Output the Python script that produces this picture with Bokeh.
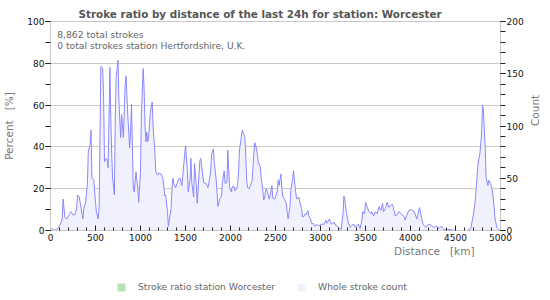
import math
from bokeh.plotting import figure
from bokeh.layouts import column
from bokeh.models import Range1d, LinearAxis, SingleIntervalTicker, Legend, LegendItem, Label, Title
from bokeh.embed import file_html
from bokeh.resources import INLINE

title_text = "Stroke ratio by distance of the last 24h for station: Worcester"
info_lines = ["8,862 total strokes", "0 total strokes station Hertfordshire, U.K."]
series_names = ["Stroke ratio station Worcester", "Whole stroke count"]
x_label = "Distance\u00a0\u00a0 [km]"
y_label = "Percent\u00a0\u00a0 [%]"
y2_label = "Count"

distance_km = [
    0, 20, 40, 60, 80, 110, 130, 140, 160, 180, 200, 230, 250, 270, 290, 300, 320, 340, 360, 370,
    390, 410, 420, 440, 450, 460, 480, 500, 510, 530, 540, 550, 560, 580, 590, 600, 620, 630, 640, 660,
    670, 680, 690, 710, 720, 730, 750, 760, 780, 790, 810, 830, 840, 860, 880, 890, 900, 920, 930, 950,
    970, 980, 1000, 1010, 1030, 1040, 1050, 1060, 1070, 1080, 1090, 1110, 1130, 1140, 1160, 1170, 1190, 1200, 1230, 1250,
    1270, 1280, 1300, 1310, 1320, 1340, 1350, 1360, 1370, 1390, 1410, 1430, 1440, 1460, 1470, 1490, 1500, 1520, 1530, 1550,
    1560, 1570, 1590, 1600, 1620, 1630, 1640, 1660, 1670, 1690, 1700, 1730, 1750, 1760, 1780, 1790, 1810, 1820, 1840, 1850,
    1860, 1880, 1900, 1910, 1930, 1940, 1960, 1970, 1980, 1990, 2010, 2020, 2040, 2050, 2070, 2080, 2090, 2100, 2120, 2130,
    2140, 2160, 2170, 2180, 2190, 2210, 2220, 2240, 2250, 2260, 2270, 2290, 2300, 2310, 2320, 2330, 2340, 2360, 2370, 2380,
    2390, 2400, 2420, 2430, 2440, 2460, 2470, 2490, 2500, 2520, 2530, 2540, 2550, 2560, 2570, 2580, 2600, 2620, 2630, 2640,
    2660, 2670, 2690, 2700, 2710, 2730, 2740, 2760, 2770, 2790, 2800, 2820, 2830, 2840, 2860, 2870, 2890, 2900, 2930, 2940,
    2960, 2980, 3000, 3040, 3060, 3070, 3100, 3120, 3150, 3170, 3200, 3230, 3250, 3260, 3270, 3290, 3310, 3330, 3350, 3370,
    3390, 3420, 3440, 3460, 3470, 3490, 3500, 3520, 3540, 3560, 3570, 3590, 3610, 3630, 3650, 3670, 3690, 3700, 3720, 3740,
    3760, 3780, 3800, 3820, 3830, 3850, 3870, 3900, 3930, 3940, 3960, 3980, 4010, 4030, 4050, 4070, 4100, 4120, 4140, 4170,
    4200, 4230, 4260, 4290, 4320, 4340, 4370, 4410, 4440, 4500, 4560, 4630, 4670, 4700, 4720, 4750, 4770, 4790, 4800, 4810,
    4820, 4830, 4840, 4860, 4870, 4890, 4910, 4930, 4940, 4960, 4980, 5000,
]
stroke_count = [
    1, 2, 0, 1, 2, 6, 11, 30, 13, 11, 14, 18, 15, 15, 21, 34, 32, 21, 11, 21,
    27, 44, 76, 82, 96, 50, 49, 27, 18, 11, 21, 90, 157, 155, 127, 66, 69, 68, 60, 156,
    108, 73, 50, 34, 111, 147, 163, 124, 89, 111, 89, 140, 148, 108, 79, 95, 121, 40, 37, 56,
    40, 27, 57, 110, 155, 136, 100, 85, 94, 85, 89, 113, 123, 99, 75, 56, 53, 55, 54, 49,
    33, 34, 18, 4, 10, 21, 40, 50, 45, 41, 46, 50, 50, 43, 53, 72, 81, 59, 37, 49,
    69, 46, 32, 64, 43, 26, 40, 67, 69, 54, 46, 45, 41, 46, 56, 73, 78, 65, 49, 37,
    23, 30, 33, 46, 57, 45, 46, 77, 59, 41, 37, 42, 42, 38, 40, 45, 57, 77, 89, 96,
    94, 89, 70, 48, 41, 40, 43, 48, 61, 75, 84, 78, 72, 64, 64, 61, 51, 38, 29, 32,
    38, 40, 34, 30, 33, 43, 31, 30, 32, 38, 48, 43, 49, 54, 41, 33, 30, 26, 18, 11,
    22, 38, 49, 57, 48, 33, 30, 32, 27, 21, 13, 14, 16, 15, 19, 14, 11, 7, 6, 4,
    6, 4, 6, 6, 10, 7, 11, 6, 8, 5, 3, 1, 16, 33, 29, 16, 7, 3, 5, 6,
    3, 6, 2, 10, 18, 16, 27, 22, 18, 16, 18, 14, 18, 16, 23, 19, 26, 18, 21, 27,
    22, 24, 25, 18, 14, 15, 18, 16, 13, 10, 15, 19, 20, 19, 16, 11, 22, 13, 6, 3,
    6, 5, 3, 4, 2, 4, 1, 1, 1, 0, 0, 0, 2, 16, 29, 64, 73, 92, 120, 115,
    96, 80, 51, 43, 48, 45, 38, 22, 11, 3, 1, 0,
]
# the station recorded 0 strokes, so its ratio is 0 at every distance
ratio_percent = [0] * len(distance_km)

FONT = "DejaVu Sans"
GRID = "#c8c8c8"
RATIO_COLOR = "#b8e2b5"
COUNT_FILL = "#f1f1fd"
COUNT_LINE = "#8888ff"

p = figure(width=550, height=245, x_range=Range1d(0, 5000), y_range=Range1d(0, 100),
           output_backend="svg", toolbar_location=None,
           min_border_left=50, min_border_right=50, min_border_top=21, min_border_bottom=15)
p.extra_y_ranges = {"count": Range1d(0, 200)}
p.background_fill_color = "white"
p.border_fill_color = "white"
p.outline_line_color = GRID

t = Title(text=title_text, text_font=FONT, text_font_size="10.4px", text_font_style="bold",
          text_color="#555555", align="left", offset=28, standoff=4)
p.add_layout(t, "above")

# x axis
xa = p.xaxis[0]
xa.ticker = SingleIntervalTicker(interval=500, num_minor_ticks=5)
xa.axis_line_color = GRID
xa.major_tick_in = 5
xa.major_tick_out = 0
xa.minor_tick_in = 3
xa.minor_tick_out = 0
xa.major_tick_line_color = "#222222"
xa.minor_tick_line_color = "#222222"
xa.major_label_text_font = FONT
xa.major_label_text_font_size = "9px"
xa.major_label_text_color = "#111111"
xa.major_label_standoff = 3

# left axis
ya = p.yaxis[0]
ya.ticker = SingleIntervalTicker(interval=20, num_minor_ticks=2)
ya.axis_label = y_label
ya.axis_label_text_font = FONT
ya.axis_label_text_font_size = "10.5px"
ya.axis_label_text_font_style = "normal"
ya.axis_label_text_color = "#777777"
ya.axis_label_standoff = 9
ya.axis_line_color = GRID
ya.major_tick_in = 0
ya.major_tick_out = 5
ya.minor_tick_in = 0
ya.minor_tick_out = 5
ya.major_tick_line_color = "#222222"
ya.minor_tick_line_color = "#222222"
ya.major_label_text_font = FONT
ya.major_label_text_font_size = "9px"
ya.major_label_text_color = "#111111"
ya.major_label_standoff = 1

# right axis
ra = LinearAxis(y_range_name="count", axis_label=y2_label,
                ticker=SingleIntervalTicker(interval=50, num_minor_ticks=5))
ra.axis_label_text_font = FONT
ra.axis_label_text_font_size = "10.5px"
ra.axis_label_text_font_style = "normal"
ra.axis_label_text_color = "#777777"
ra.axis_label_standoff = 8
ra.axis_label_orientation = math.pi / 2
ra.axis_line_color = GRID
ra.major_tick_in = 0
ra.major_tick_out = 5
ra.minor_tick_in = 0
ra.minor_tick_out = 5
ra.major_tick_line_color = "#222222"
ra.minor_tick_line_color = "#222222"
ra.major_label_text_font = FONT
ra.major_label_text_font_size = "9px"
ra.major_label_text_color = "#111111"
ra.major_label_standoff = 1
p.add_layout(ra, "right")

p.xgrid.visible = False
p.ygrid.ticker = SingleIntervalTicker(interval=20)
p.ygrid.grid_line_color = GRID

p.varea(x=distance_km, y1=0, y2=stroke_count, y_range_name="count", fill_color=COUNT_FILL)
p.line(distance_km, stroke_count, y_range_name="count", line_color=COUNT_LINE, line_width=1)
p.varea(x=distance_km, y1=0, y2=ratio_percent, fill_color=RATIO_COLOR)

for i, txt in enumerate(info_lines):
    p.add_layout(Label(x=75, y=94 - 5.3 * i, text=txt, text_font=FONT, text_font_size="9.2px",
                       text_color="#666666", text_baseline="middle"))

# footer: axis title and legend (its frame is aligned with the main frame)
f = figure(width=550, height=55, x_range=Range1d(0, 5000), y_range=Range1d(0, 100),
           output_backend="svg", toolbar_location=None, x_axis_type=None, y_axis_type=None,
           min_border=0)
f.outline_line_color = None
f.background_fill_color = "white"
f.border_fill_color = "white"
f.xgrid.visible = False
f.ygrid.visible = False

f.add_layout(Label(x=424, y=50, x_units="screen", y_units="screen", text=x_label, text_font=FONT,
                   text_font_size="10.5px", text_color="#777777", text_align="right",
                   text_baseline="middle"))

r_ratio = f.varea(x=distance_km, y1=0, y2=ratio_percent, fill_color=RATIO_COLOR, visible=False)
r_count = f.varea(x=distance_km, y1=0, y2=stroke_count, fill_color=COUNT_FILL, visible=False)

legend = Legend(items=[LegendItem(label=series_names[0], renderers=[r_ratio]),
                       LegendItem(label=series_names[1], renderers=[r_count])],
                orientation="horizontal", location=(66, 8), glyph_width=10, glyph_height=10,
                label_standoff=12, spacing=21, padding=0, margin=0, label_height=10,
                border_line_color=None, background_fill_alpha=0,
                label_text_font=FONT, label_text_font_size="9.2px", label_text_color="#666666")
f.add_layout(legend, "center")

layout = column(p, f, spacing=0)
open("out.html", "w").write(file_html(layout, INLINE))
